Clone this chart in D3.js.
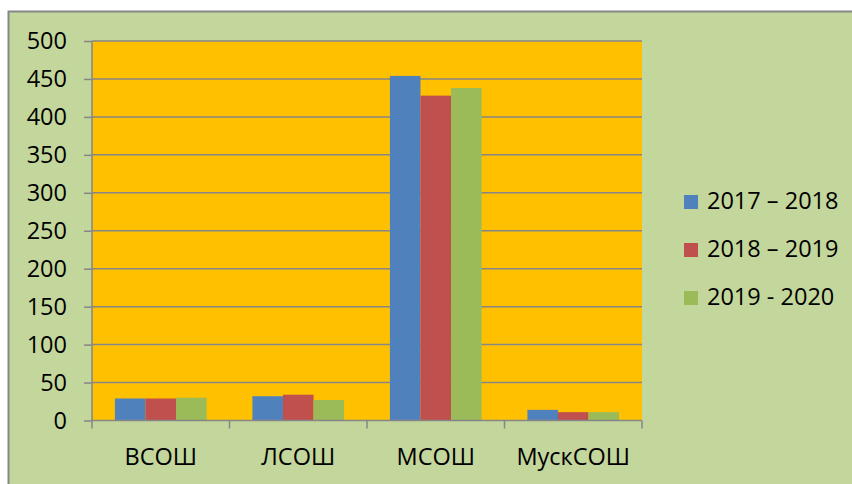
<!DOCTYPE html>
<html>
<head>
<meta charset="utf-8">
<script src="https://cdn.jsdelivr.net/npm/d3@7"></script>
<style>
  body { margin: 0; background: #fff; }
  svg text { font-family: "Open Sans", sans-serif; fill: #000; }
</style>
</head>
<body>
<div id="chart"></div>
<script>
// data
const schools = ["ВСОШ", "ЛСОШ", "МСОШ", "МускСОШ"];
const seriesNames = ["2017 – 2018", "2018 – 2019", "2019 - 2020"];
const values2017 = [29, 32, 454, 14];
const values2018 = [29, 34, 428, 11];
const values2019 = [30, 27, 438, 11];
const yTicks = [0, 50, 100, 150, 200, 250, 300, 350, 400, 450, 500];
const colors = ["#4F81BD", "#C0504D", "#9BBB59"];

const allValues = [values2017, values2018, values2019];

const svgWidth = 852, svgHeight = 484;
const margin = { top: 41, right: 210, bottom: 63.5, left: 92 };
const width = svgWidth - margin.left - margin.right;
const height = svgHeight - margin.top - margin.bottom;

const svg = d3.select("#chart")
  .append("svg")
  .attr("width", svgWidth)
  .attr("height", svgHeight);

// outer chart area
svg.append("rect")
  .attr("x", 8.5).attr("y", 11.5)
  .attr("width", svgWidth).attr("height", svgHeight)
  .attr("fill", "#C3D69B")
  .attr("stroke", "#868686")
  .attr("stroke-width", 2);

const chart = svg.append("g")
  .attr("transform", `translate(${margin.left}, ${margin.top})`);

const xScale = d3.scaleBand()
  .domain(schools)
  .range([0, width])
  .paddingInner(0)
  .paddingOuter(0);

const xInner = d3.scaleBand()
  .domain(seriesNames)
  .range([0, xScale.bandwidth()])
  .paddingInner(0)
  .paddingOuter(0.75);

const yScale = d3.scaleLinear()
  .domain([0, 500])
  .range([height, 0]);

// plot background
chart.append("rect")
  .attr("width", width).attr("height", height)
  .attr("fill", "#FFC000");

// gridlines
chart.append("g")
  .selectAll("line")
  .data(yTicks.slice(1))
  .enter()
  .append("line")
  .attr("x1", 0).attr("x2", width)
  .attr("y1", d => yScale(d)).attr("y2", d => yScale(d))
  .attr("stroke", "#868686")
  .attr("stroke-width", 1.5);

// bars
const groups = chart.selectAll(".grp")
  .data(schools)
  .enter()
  .append("g")
  .attr("class", "grp")
  .attr("transform", d => `translate(${xScale(d)},0)`);

groups.selectAll("rect")
  .data((d, i) => seriesNames.map((s, j) => ({ s: s, v: allValues[j][i], j: j })))
  .enter()
  .append("rect")
  .attr("x", d => xInner(d.s))
  .attr("y", d => yScale(d.v))
  .attr("width", xInner.bandwidth())
  .attr("height", d => height - yScale(d.v))
  .attr("fill", d => colors[d.j]);

// y axis
const yAxis = chart.append("g")
  .call(d3.axisLeft(yScale).tickValues(yTicks).tickSize(8).tickPadding(17));
yAxis.selectAll("line").attr("stroke", "#868686").attr("stroke-width", 1.5);
yAxis.select(".domain").attr("stroke", "#868686").attr("stroke-width", 1.5).attr("d", `M0,0V${height}`);
yAxis.selectAll("text")
  .attr("font-size", 23.5)
  .attr("font-family", "Open Sans");

// x axis
const xAxis = chart.append("g")
  .attr("transform", `translate(0, ${height})`)
  .call(d3.axisBottom(xScale).tickSize(0).tickPadding(28));
xAxis.select(".domain").attr("stroke", "#868686").attr("stroke-width", 1.5).attr("d", `M0,0H${width}`);
xAxis.selectAll("text")
  .attr("font-size", 23.5)
  .attr("font-family", "Open Sans");

// x tick marks at category borders
chart.append("g")
  .selectAll("line")
  .data(d3.range(schools.length + 1))
  .enter()
  .append("line")
  .attr("x1", d => d * xScale.step()).attr("x2", d => d * xScale.step())
  .attr("y1", height).attr("y2", height + 8)
  .attr("stroke", "#868686")
  .attr("stroke-width", 1.5);

// legend
const legend = svg.append("g")
  .attr("transform", "translate(684, 195)");

const item = legend.selectAll("g")
  .data(seriesNames)
  .enter()
  .append("g")
  .attr("transform", (d, i) => `translate(0, ${i * 48})`);

item.append("rect")
  .attr("width", 14).attr("height", 14)
  .attr("fill", (d, i) => colors[i]);

item.append("text")
  .attr("x", 23)
  .attr("y", 14)
  .attr("font-size", 23.5)
  .text(d => d);
</script>
</body>
</html>
